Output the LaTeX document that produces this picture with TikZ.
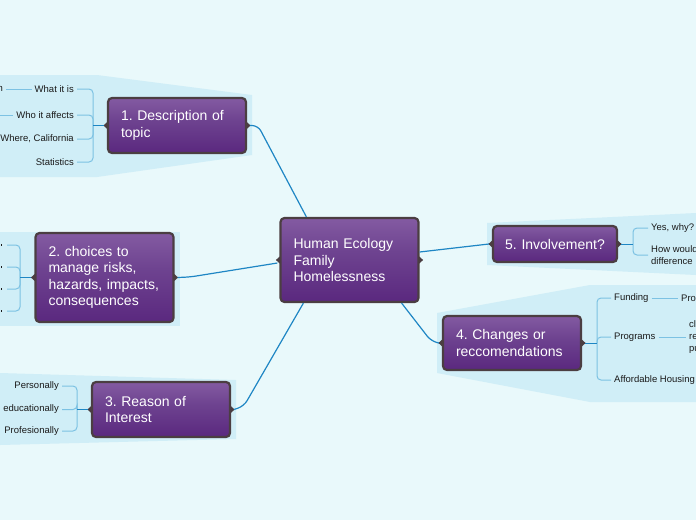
\documentclass[tikz,border=0pt]{standalone}
\usepackage{fontspec}
\setmainfont{Liberation Sans}
\usetikzlibrary{calc}
\definecolor{bgcol}{HTML}{E9F9FB}
\definecolor{bandc}{HTML}{D0EEF7}
\definecolor{linkc}{HTML}{1E86C4}
\definecolor{twigc}{HTML}{7DC2E3}
\definecolor{bordc}{HTML}{4B3E42}
\definecolor{leafc}{HTML}{1A1A1A}
\definecolor{ptop}{HTML}{9E78B8}
\definecolor{pmid}{HTML}{6E4390}
\definecolor{pdark}{HTML}{55217A}
\definecolor{pbot}{HTML}{8B66A6}
\pgfdeclareverticalshading{boxshade}{100bp}{color(0bp)=(pbot); color(7bp)=(pbot); color(17bp)=(pdark); color(55bp)=(pmid); color(100bp)=(ptop)}
\frenchspacing
\begin{document}
\begin{tikzpicture}[x=1pt,y=-1pt,
  topic/.style={rectangle,rounded corners=4pt,draw=bordc,line width=2.2pt,shade,shading=boxshade,
    text=white,font=\fontsize{14}{16.5}\selectfont,align=left,text width=112pt,inner xsep=13pt,inner ysep=0pt},
  leaf/.style={font=\fontsize{9.5}{12}\selectfont,text=leafc,inner sep=3pt},
  link/.style={draw=linkc,line width=1.2pt,rounded corners=6pt},
  twig/.style={draw=twigc,line width=1pt,rounded corners=4pt}]
  \clip (0,0) rectangle (696,520);
  \fill[bgcol] (0,0) rectangle (696,520);
  % bands
  \fill[bandc] (0,75) -- (97,75) -- (252,95) -- (252,155) -- (97,177) -- (0,177) -- cycle;
  \fill[bandc] (0,232) rectangle (180,326);
  \fill[bandc] (0,373) -- (236,380) -- (236,439) -- (0,445) -- cycle;
  \fill[bandc] (487,223) -- (696,213) -- (696,275) -- (487,265) -- cycle;
  \fill[bandc] (437,313) -- (590,285) -- (696,285) -- (696,402) -- (590,402) -- (437,373) -- cycle;
  % topics
  \node[topic,minimum height=84pt] (hub) at (349.5,260) {Human Ecology\\Family\\Homelessness};
  \node[topic,minimum height=55pt] (d1) at (177,125.5) {1. Description of\\topic};
  \node[topic,minimum height=89pt] (d2) at (104.5,277.5) {2. choices to\\manage risks,\\hazards, impacts,\\consequences};
  \node[topic,minimum height=55pt] (d3) at (161,409.5) {3. Reason of\\Interest};
  \node[topic,minimum height=54pt] (d4) at (512,343) {4. Changes or\\reccomendations};
  \node[topic,minimum height=36pt,text width=110pt,inner xsep=7pt,align=center] (d5) at (555,244) {5. Involvement?};
  \foreach \n in {hub,d1,d2,d3,d4,d5} {
    \fill[bordc] ($(\n.west)+(1.5,-4.5)$) -- ($(\n.west)+(-3.5,0)$) -- ($(\n.west)+(1.5,4.5)$) -- cycle;
    \fill[bordc] ($(\n.east)+(-1.5,-4.5)$) -- ($(\n.east)+(3.5,0)$) -- ($(\n.east)+(-1.5,4.5)$) -- cycle;
  }
  % main links
  \draw[link] ($(hub.north west)+(27,0)$) -- (258,125.5) -- ($(d1.east)+(3,0)$);
  \draw[link] ($(hub.west)+(-2,3)$) -- (190,277) -- ($(d2.east)+(3,0)$);
  \draw[link] ($(hub.south west)+(24,0)$) -- (244,406) -- ($(d3.east)+(3,0)$);
  \draw[link] ($(hub.east)+(0,-8)$) -- ($(d5.west)+(-3,0)$);
  \draw[link] ($(hub.south east)+(-18,0)$) -- (431,341) -- ($(d4.west)+(-3,0)$);
  % 1. leaves
  \node[leaf,anchor=east] (l10) at (6,89) {n};
  \node[leaf,anchor=east] (l11) at (77,89) {What it is};
  \node[leaf,anchor=east] (l12) at (77,115) {Who it affects};
  \node[leaf,anchor=east] (l13) at (77,139) {Where, California};
  \node[leaf,anchor=east] (l14) at (77,162) {Statistics};
  \coordinate (l15) at (0,115);
  \draw[twig] (l10) -- (l11);
  \draw[twig] (l12) -- (l15);
  \foreach \l in {l11,l12,l13,l14}
    \draw[twig] (93,125.5) |- (\l.east);
  \draw[linkc,line width=1pt] ($(d1.west)+(-3,0)$) -- (93,125.5);
  % 2. leaves
  \foreach \y [count=\i] in {245,267,289,311} {
    \coordinate (l2\i) at (7,\y);
    \fill[leafc] (0.5,\y-0.8) rectangle (2,\y+0.8);
    \draw[twig] (20,277.5) |- (l2\i);
  }
  \draw[linkc,line width=1pt] ($(d2.west)+(-3,0)$) -- (20,277.5);
  % 3. leaves
  \node[leaf,anchor=east] (l31) at (62,386) {Personally};
  \node[leaf,anchor=east] (l32) at (62,409.5) {educationally};
  \node[leaf,anchor=east] (l33) at (62,431) {Profesionally};
  \foreach \l in {l31,l32,l33}
    \draw[twig] (77,409.5) |- (\l.east);
  \draw[linkc,line width=1pt] ($(d3.west)+(-3,0)$) -- (77,409.5);
  % 5. leaves
  \node[leaf,anchor=west] (l51) at (648,228) {Yes, why?};
  \node[leaf,anchor=west,align=left] (l52) at (648,255) {How would\\difference};
  \foreach \l in {l51,l52}
    \draw[twig] (633,244) |- (\l.west);
  \draw[linkc,line width=1pt] ($(d5.east)+(3,0)$) -- (633,244);
  % 4. leaves
  \node[leaf,anchor=west] (l41) at (611,298) {Funding};
  \node[leaf,anchor=west] (l42) at (611,337) {Programs};
  \node[leaf,anchor=west] (l43) at (611,380) {Affordable Housing};
  \node[leaf,anchor=west] (l44) at (678,298) {Pro};
  \node[leaf,anchor=west,align=left] (l45) at (686,337) {cl\\re\\pu};
  \foreach \l in {l41,l42,l43}
    \draw[twig] (597,343) |- (\l.west);
  \draw[linkc,line width=1pt] ($(d4.east)+(3,0)$) -- (597,343);
  \draw[twig] (l41) -- (l44);
  \draw[twig] (l42) -- (l45);
\end{tikzpicture}
\end{document}
